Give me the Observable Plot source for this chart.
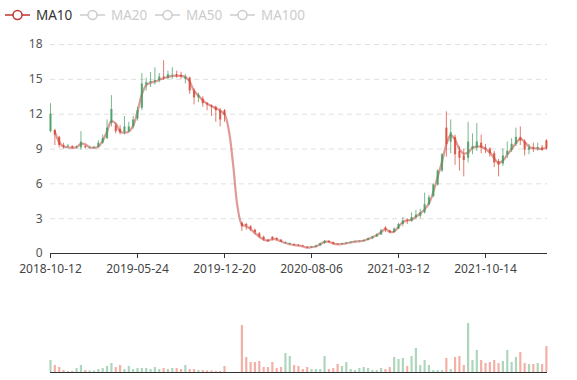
<!DOCTYPE html>
<html>
<head>
<meta charset="utf-8">
<script src="https://cdn.jsdelivr.net/npm/d3@7"></script>
<script src="https://cdn.jsdelivr.net/npm/@observablehq/plot@0.6"></script>
<style>
  html, body { margin: 0; padding: 0; background: #fff; }
  #wrap { position: relative; width: 577px; height: 380px; overflow: hidden; font-family: "Noto Sans", "DejaVu Sans", sans-serif; }
  #legend { position: absolute; top: 0; left: 0; width: 577px; height: 30px; }
  .item { position: absolute; top: 5px; height: 20px; display: flex; align-items: center; font-size: 13.5px; }
  .item svg { margin-right: 6px; }
  #price { position: absolute; top: 0; left: 0; }
  #vol { position: absolute; top: 300px; left: 0; }
</style>
</head>
<body>
<div id="wrap">
  <div id="vol"></div>
  <div id="price"></div>
  <div id="legend"></div>
</div>
<script>
// ---- data (one sample per ~2 weeks) ----
const tickIdx = [0, 20, 40, 60, 80, 100];
const tickLabels = ["2018-10-12", "2019-05-24", "2019-12-20", "2020-08-06", "2021-03-12", "2021-10-14"];
const yTicks = [0, 3, 6, 9, 12, 15, 18];
const legendNames = ["MA10", "MA20", "MA50", "MA100"];

const openP = [10.5,10.6,10.0,9.3,9.2,9.2,9.1,9.1,9.2,9.1,
  9.1,9.15,9.5,9.9,11.2,11.0,10.7,10.4,10.5,10.9,
  11.6,12.5,14.5,14.7,14.8,14.9,15.2,15.1,15.3,15.4,
  15.35,15.0,15.1,14.0,13.4,13.3,12.9,12.7,12.6,12.3,
  12.3,null,null,null,2.6,2.5,2.3,2.0,1.7,1.4,
  1.15,1.4,1.3,1.15,0.86,0.78,0.78,0.72,0.66,0.55,
  0.5,0.55,0.65,0.85,1.05,0.95,0.82,0.78,0.84,0.9,
  0.97,1.02,1.05,1.12,1.27,1.42,1.6,2.2,1.95,1.8,
  2.1,2.5,2.8,2.75,3.1,3.2,3.5,4.2,4.9,5.9,
  7.1,10.8,9.6,10.0,8.8,8.4,8.2,9.0,9.1,9.5,
  9.1,9.0,8.6,7.9,7.7,8.5,8.9,9.4,10.0,9.6,
  8.9,9.1,9.0,9.1,9.7];
const closeP = [12.0,10.2,9.3,9.2,9.25,9.1,9.15,9.6,9.1,9.12,
  9.15,9.5,9.9,10.8,12.4,10.5,10.4,10.9,10.9,11.5,
  12.3,14.6,14.7,14.8,14.9,15.2,15.1,15.4,15.35,15.3,
  15.2,15.2,14.0,13.4,13.6,12.9,12.8,12.6,12.3,11.5,
  11.9,null,null,null,2.3,2.4,2.1,1.8,1.45,1.2,
  1.05,1.25,1.2,1.0,0.92,0.84,0.72,0.68,0.6,0.48,
  0.55,0.65,0.85,1.05,0.95,0.82,0.78,0.84,0.9,0.97,
  1.02,1.05,1.12,1.27,1.42,1.6,1.95,2.0,1.8,2.1,
  2.5,2.8,2.75,3.1,3.3,3.5,4.2,4.8,5.9,7.1,
  8.5,9.4,10.4,8.5,8.2,8.0,9.6,9.2,9.6,9.1,
  9.0,8.6,7.8,7.6,8.4,8.8,9.4,10.0,9.7,8.9,
  9.1,9.0,9.1,8.9,9.1];
const lowP = [10.4,9.3,9.1,9.0,9.05,9.0,9.0,8.9,9.0,9.0,
  9.0,9.1,9.4,9.8,10.9,10.3,10.2,10.2,10.4,10.7,
  11.4,12.3,14.0,14.3,14.5,14.7,14.9,15.0,15.0,15.1,
  15.0,14.6,13.7,12.8,13.0,12.6,12.3,11.8,11.3,10.9,
  11.3,null,null,null,1.9,2.0,1.9,1.6,1.3,1.05,
  0.95,1.05,1.1,0.95,0.8,0.72,0.66,0.62,0.55,0.42,
  0.45,0.5,0.62,0.8,0.9,0.75,0.72,0.74,0.8,0.86,
  0.92,0.98,1.0,1.08,1.22,1.38,1.55,1.8,1.7,1.75,
  2.05,2.3,2.5,2.7,2.9,3.0,3.4,4.1,4.8,5.8,
  7.0,8.3,8.6,7.6,7.1,6.6,7.8,8.5,8.8,8.6,
  8.6,8.3,7.4,6.6,7.5,8.2,8.7,9.2,9.3,8.4,
  8.5,8.7,8.8,8.8,8.9];
const highP = [12.9,10.7,10.1,9.5,9.4,9.3,9.25,10.5,9.3,9.2,
  9.2,9.7,10.2,11.5,13.6,11.2,11.0,11.8,11.3,11.8,
  12.6,15.5,15.1,15.6,16.0,15.5,16.6,15.7,16.0,15.7,
  15.6,15.4,15.2,14.2,13.8,13.5,13.0,12.8,12.7,12.5,
  12.4,null,null,null,2.7,2.6,2.4,2.1,1.8,1.5,
  1.2,1.45,1.35,1.2,1.0,0.9,0.82,0.76,0.7,0.6,
  0.6,0.7,0.9,1.12,1.1,0.98,0.85,0.88,0.94,1.0,
  1.06,1.1,1.17,1.32,1.48,1.7,2.1,2.3,2.0,2.2,
  2.6,3.1,3.0,3.5,3.7,3.8,5.2,5.0,6.0,7.2,
  8.6,12.2,11.5,10.2,9.2,9.0,11.3,10.3,11.2,10.2,
  9.4,9.1,8.8,8.1,9.0,9.6,9.9,10.8,10.9,9.8,
  9.4,9.5,9.5,9.3,9.8];
const ma10 = [null,10.5,9.6,9.2,9.15,9.1,9.15,9.45,9.4,9.15,
  9.1,9.2,9.7,10.5,11.4,11.2,10.5,10.4,10.5,11.0,
  12.2,13.7,14.5,14.7,14.8,14.95,15.1,15.2,15.3,15.3,
  15.3,15.2,14.8,14.0,13.6,13.2,12.9,12.7,12.5,12.3,
  12.0,10.6,7.6,4.0,2.5,2.35,2.1,1.75,1.45,1.2,
  1.1,1.25,1.2,1.05,0.9,0.8,0.72,0.68,0.6,0.5,
  0.55,0.6,0.8,1.0,1.0,0.85,0.78,0.82,0.88,0.95,
  1.02,1.05,1.1,1.25,1.4,1.58,1.85,2.1,1.85,1.9,
  2.3,2.7,2.85,2.9,3.15,3.45,3.8,4.3,5.3,6.6,
  7.9,9.4,10.2,9.8,9.0,8.6,8.7,9.1,9.2,9.2,
  9.0,8.7,8.2,7.8,8.0,8.5,9.0,9.5,9.9,9.6,
  9.2,9.05,9.05,9.0,9.1];
const volume = [12,7,5,2,1,1,4,7,2,1.5,
  1.5,3,4,6,9,5,7,3,6,3,
  4,4,4,3,5,3,4,3,4,4,
  3,7,3,3,2,2,1.5,1.5,1,1,
  6,null,null,null,47,15,10,10,11,5,
  5,10,4,5,19,16,7,6,3,5,
  3,3,3,16,3,4,8,6,10,3,
  2,4,5,4,2,2,4,3,5,15,
  13,14,6,16,24,7,12,7,2,2,
  2,14,3,15,16,7,49,12,22,12,
  9,10,12,9,11,22,10,15,20,9,
  8,8,9,8,26];

// ---- build ----
const UP = "#3f9a5e", DOWN = "#d8412f", MA_COLOR = "#c23531";
const UP_V = "#6cb585", DOWN_V = "#ea6f5f";
const rows = d3.range(openP.length).map(i => ({
  i, open: openP[i], close: closeP[i], low: lowP[i], high: highP[i], vol: volume[i], ma: ma10[i]
}));
const candles = rows.filter(d => d.open != null);
const colorOf = d => d.close >= d.open ? UP : DOWN;
const volColorOf = d => d.close >= d.open ? UP_V : DOWN_V;
const xDomain = [0, openP.length - 1 + 0.25];
const labelOf = new Map(tickIdx.map((t, k) => [t, tickLabels[k]]));

const price = Plot.plot({
  width: 577, height: 288,
  marginLeft: 50, marginRight: 30, marginTop: 44, marginBottom: 35,
  style: { fontFamily: "'Noto Sans', 'DejaVu Sans', sans-serif", fontSize: "12px", color: "#333", background: "transparent", overflow: "visible" },
  color: { type: "identity" },
  x: { domain: xDomain, ticks: tickIdx, tickFormat: d => labelOf.get(d) ?? "", tickSize: 5, tickPadding: 6, label: null },
  y: { domain: [0, 18], ticks: yTicks, tickSize: 0, tickPadding: 8, label: null },
  marks: [
    Plot.ruleY(yTicks.filter(v => v > 0), { stroke: "#e0e0e0", strokeDasharray: "5,4" }),
    Plot.line(rows.filter(d => d.ma != null), { x: "i", y: "ma", stroke: MA_COLOR, strokeWidth: 2.2, strokeOpacity: 0.5, curve: "catmull-rom" }),
    Plot.ruleX(candles, { x: "i", y1: "low", y2: "high", stroke: colorOf, strokeWidth: 1, strokeOpacity: 0.7 }),
    Plot.ruleX(candles, { x: "i", y1: "open", y2: "close", stroke: colorOf, strokeWidth: 2.2, strokeOpacity: 0.75 }),
    Plot.ruleY([0], { stroke: "#333", strokeWidth: 1 })
  ]
});
d3.select(price).selectAll("g[aria-label='y-axis'] text, g[aria-label='y-axis tick label'] text").attr("fill", "#555");
d3.select(price).selectAll("g[aria-label='x-axis'] text, g[aria-label='x-axis tick label'] text").attr("fill", "#444");
document.getElementById("price").appendChild(price);

const vols = rows.filter(d => d.vol != null && d.open != null);
const volPlot = Plot.plot({
  width: 577, height: 80,
  marginLeft: 50, marginRight: 30, marginTop: 12, marginBottom: 8,
  style: { background: "transparent" },
  color: { type: "identity" },
  x: { domain: xDomain, axis: null },
  y: { domain: [0, 60], axis: null },
  marks: [
    Plot.ruleX(vols, { x: "i", y1: 0, y2: "vol", stroke: volColorOf, strokeWidth: 2.2, strokeOpacity: 0.55 }),
    Plot.ruleY([0], { stroke: "#333", strokeWidth: 1.2 })
  ]
});
document.getElementById("vol").appendChild(volPlot);

// ---- legend ----
const legendX = [5, 80, 155, 230];
const legend = d3.select("#legend");
legendNames.forEach((name, k) => {
  const active = k === 0;
  const col = active ? MA_COLOR : "#ccc";
  const it = legend.append("div").attr("class", "item").style("left", legendX[k] + "px");
  const s = it.append("svg").attr("width", 25).attr("height", 14);
  s.append("line").attr("x1", 0).attr("x2", 25).attr("y1", 7).attr("y2", 7).attr("stroke", col).attr("stroke-width", 1.5);
  s.append("circle").attr("cx", 12.5).attr("cy", 7).attr("r", 4.5).attr("fill", "#fff").attr("stroke", col).attr("stroke-width", 1.5);
  it.append("span").text(name).style("color", active ? "#333" : "#ccc");
});
</script>
</body>
</html>
